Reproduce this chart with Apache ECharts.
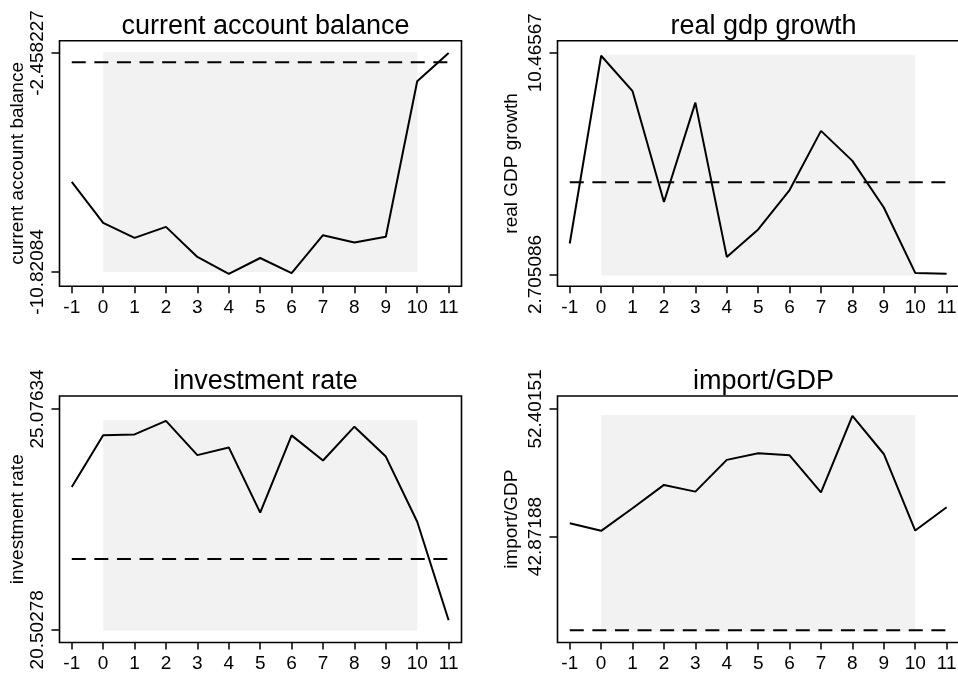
<!DOCTYPE html>
<html>
<head>
<meta charset="utf-8">
<script src="https://cdn.jsdelivr.net/npm/echarts@6/dist/echarts.min.js"></script>
<style>
html,body{margin:0;padding:0;background:#fff;}
#chart{width:958px;height:679px;}
</style>
</head>
<body>
<div id="chart"></div>
<script>
// ---- data ----
const xPeriods = [-1, 0, 1, 2, 3, 4, 5, 6, 7, 8, 9, 10, 11];
const xTickLabels = ['-1','0','1','2','3','4','5','6','7','8','9','10','11'];

const panelTitles = ['current account balance', 'real gdp growth', 'investment rate', 'import/GDP'];
const yAxisTitles = ['current account balance', 'real GDP growth', 'investment rate', 'import/GDP'];

const currentAccount = [-7.38, -8.95, -9.52, -9.10, -10.25, -10.90, -10.29, -10.87, -9.42, -9.70, -9.48, -3.54, -2.46];
const realGdpGrowth  = [3.79, 10.36, 9.12, 5.24, 8.72, 3.32, 4.28, 5.66, 7.73, 6.68, 5.05, 2.76, 2.73];
const investmentRate = [23.46, 24.53, 24.55, 24.83, 24.12, 24.28, 22.93, 24.53, 24.01, 24.71, 24.09, 22.74, 20.70];
const importGdp      = [43.87, 43.30, 44.99, 46.73, 46.23, 48.60, 49.09, 48.94, 46.18, 51.88, 49.04, 43.32, 45.06];

// reference (dashed) levels
const currentAccountRef = -2.81;
const realGdpGrowthRef  = 5.93;
const investmentRateRef = 21.97;
const importGdpRef      = 35.88;

// y tick values (shown as labels)
const currentAccountTicks = [-10.82084, -2.458227];
const realGdpGrowthTicks  = [2.705086, 10.46567];
const investmentRateTicks = [20.50278, 25.07634];
const importGdpTicks      = [42.87188, 52.40151];

// shaded band: x from 0 to 10, y bounds
const shadeX = [0, 10];
const currentAccountShade = [-10.82, -2.42];
const realGdpGrowthShade  = [2.67, 10.39];
const investmentRateShade = [20.48, 24.85];
const importGdpShade      = [35.78, 51.95];

// ---- layout / style ----
const FONT = '"Liberation Sans", Arial, Helvetica, sans-serif';
const panels = [
  {series: currentAccount, ref: currentAccountRef, ticks: currentAccountTicks, shade: currentAccountShade,
   grid: {left: 59.5, top: 40.7, width: 402, height: 245.5}, ymin: -11.367, ymax: -1.99, nameGap: 30, titleTop: 8},
  {series: realGdpGrowth, ref: realGdpGrowthRef, ticks: realGdpGrowthTicks, shade: realGdpGrowthShade,
   grid: {left: 557.5, top: 40.7, width: 402, height: 245.5}, ymin: 2.295, ymax: 10.886, nameGap: 36.5, titleTop: 8},
  {series: investmentRate, ref: investmentRateRef, ticks: investmentRateTicks, shade: investmentRateShade,
   grid: {left: 59.5, top: 396, width: 402, height: 246.5}, ymin: 20.239, ymax: 25.345, nameGap: 32, titleTop: 363},
  {series: importGdp, ref: importGdpRef, ticks: importGdpTicks, shade: importGdpShade,
   grid: {left: 557.5, top: 396, width: 402, height: 246.5}, ymin: 34.958, ymax: 53.372, nameGap: 36.5, titleTop: 363}
];

const grids = [], xAxes = [], yAxes = [], seriesList = [], titles = [];
panels.forEach((p, i) => {
  grids.push(Object.assign({show: true, borderColor: '#000', borderWidth: 1.6, backgroundColor: '#fff',
    outerBoundsMode: 'none', containLabel: false}, p.grid));
  titles.push({
    text: panelTitles[i],
    left: p.grid.left + p.grid.width / 2,
    top: p.titleTop,
    textAlign: 'center',
    textStyle: {fontFamily: FONT, fontSize: 27, fontWeight: 'normal', color: '#000'}
  });
  xAxes.push({
    gridIndex: i, type: 'value', min: -1.39, max: 11.41,
    axisLine: {show: false, onZero: false}, splitLine: {show: false},
    axisTick: {show: true, length: 7, customValues: xPeriods, lineStyle: {color: '#000', width: 1.5}},
    axisLabel: {show: true, customValues: xPeriods, margin: 12, fontSize: 19, color: '#000', fontFamily: FONT,
      formatter: v => xTickLabels[xPeriods.indexOf(Math.round(v))] }
  });
  yAxes.push({
    gridIndex: i, type: 'value', min: p.ymin, max: p.ymax,
    name: yAxisTitles[i], nameLocation: 'middle', nameGap: p.nameGap,
    nameTextStyle: {fontFamily: FONT, fontSize: 19, color: '#000'},
    axisLine: {show: false, onZero: false}, splitLine: {show: false},
    axisTick: {show: true, length: 8, customValues: p.ticks, lineStyle: {color: '#000', width: 1.5}},
    axisLabel: {show: true, customValues: p.ticks, rotate: 90, margin: 12, fontSize: 19, color: '#000', fontFamily: FONT,
      formatter: v => String(v)}
  });
  // shaded band (background)
  seriesList.push({
    type: 'line', xAxisIndex: i, yAxisIndex: i, data: [], z: 1, silent: true,
    markArea: {silent: true, itemStyle: {color: '#f2f2f2'},
      data: [[{coord: [shadeX[0], p.shade[0]]}, {coord: [shadeX[1], p.shade[1]]}]]}
  });
  // dashed reference line
  seriesList.push({
    type: 'line', xAxisIndex: i, yAxisIndex: i, z: 2, silent: true, symbol: 'none',
    data: [[xPeriods[0], p.ref], [xPeriods[xPeriods.length - 1], p.ref]],
    lineStyle: {color: '#000', width: 2, type: [14, 8.6]}
  });
  // main series
  seriesList.push({
    type: 'line', xAxisIndex: i, yAxisIndex: i, z: 3, silent: true, symbol: 'none',
    data: xPeriods.map((x, k) => [x, p.series[k]]),
    lineStyle: {color: '#000', width: 2}
  });
});

const chart = echarts.init(document.getElementById('chart'), null, {renderer: 'canvas'});
chart.setOption({
  backgroundColor: '#fff',
  animation: false,
  title: titles,
  grid: grids,
  xAxis: xAxes,
  yAxis: yAxes,
  series: seriesList
});
</script>
</body>
</html>
